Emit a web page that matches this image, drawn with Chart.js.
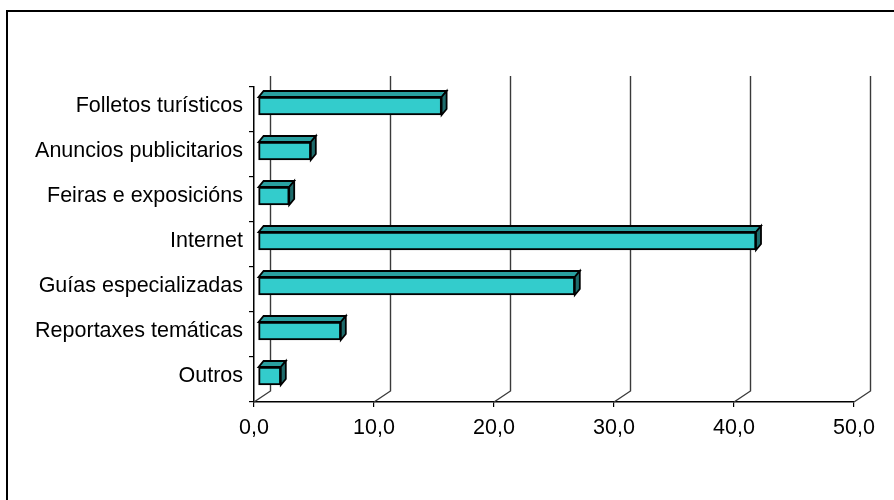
<!DOCTYPE html>
<html>
<head>
<meta charset="utf-8">
<title>Fontes de información</title>
<script src="https://cdn.jsdelivr.net/npm/chart.js@4/dist/chart.umd.min.js"></script>
<style>
  html, body { margin: 0; padding: 0; background: #fff; }
  #wrap { width: 894px; height: 500px; position: relative; }
</style>
</head>
<body>
<div id="wrap"><canvas id="c" width="894" height="500"></canvas></div>
<script>
// Categories and percentages
const categories = [
  'Folletos turísticos',
  'Anuncios publicitarios',
  'Feiras e exposicións',
  'Internet',
  'Guías especializadas',
  'Reportaxes temáticas',
  'Outros'
];
const values = [15.3, 4.4, 2.6, 41.5, 26.4, 6.9, 1.9];
const axisMin = 0;
const axisMax = 50;
const axisStep = 10;

// 3D look: depth of the back wall and of each bar, offset of bars inside the depth
const WALL = { dx: 16.5, dy: -11 };
const BAR_DEPTH = { dx: 5, dy: -6 };
const BAR_SHIFT = { dx: 4, dy: -3.5 };

const FRONT = '#33CCCC';
const TOP = '#29A0A0';
const SIDE = '#1E6B6B';

const fmt = v => v.toFixed(1).replace('.', ',');

const frame3d = {
  id: 'frame3d',
  beforeDraw(chart) {
    const ctx = chart.ctx;
    ctx.save();
    ctx.strokeStyle = '#000';
    ctx.lineWidth = 2;
    ctx.beginPath();
    ctx.moveTo(7, 500);
    ctx.lineTo(7, 11);
    ctx.lineTo(894, 11);
    ctx.stroke();
    ctx.restore();
  },
  beforeDatasetsDraw(chart) {
    const ctx = chart.ctx;
    const xs = chart.scales.x;
    const area = chart.chartArea;
    ctx.save();
    ctx.strokeStyle = '#3a3a3a';
    ctx.lineWidth = 1.4;
    for (let v = axisMin; v <= axisMax; v += axisStep) {
      const xf = xs.getPixelForValue(v);
      const xb = xf + WALL.dx;
      ctx.beginPath();
      ctx.moveTo(xf, area.bottom);
      ctx.lineTo(xb, area.bottom + WALL.dy);
      ctx.lineTo(xb, area.top + WALL.dy);
      ctx.stroke();
    }
    ctx.restore();
    ctx.save();
    ctx.translate(BAR_SHIFT.dx, BAR_SHIFT.dy);
  },
  afterDatasetsDraw(chart) {
    const ctx = chart.ctx;
    const meta = chart.getDatasetMeta(0);
    ctx.lineWidth = 1.8;
    ctx.strokeStyle = '#000';
    ctx.lineJoin = 'miter';
    meta.data.forEach(bar => {
      const { x, y, base, height } = bar.getProps(['x', 'y', 'base', 'height'], true);
      const top = y - height / 2;
      const bot = y + height / 2;
      const dx = BAR_DEPTH.dx, dy = BAR_DEPTH.dy;
      ctx.beginPath();
      ctx.moveTo(base, top);
      ctx.lineTo(base + dx, top + dy);
      ctx.lineTo(x + dx, top + dy);
      ctx.lineTo(x, top);
      ctx.closePath();
      ctx.fillStyle = TOP;
      ctx.fill();
      ctx.stroke();
      ctx.beginPath();
      ctx.moveTo(x, top);
      ctx.lineTo(x + dx, top + dy);
      ctx.lineTo(x + dx, bot + dy);
      ctx.lineTo(x, bot);
      ctx.closePath();
      ctx.fillStyle = SIDE;
      ctx.fill();
      ctx.stroke();
    });
    ctx.restore();
  }
};

new Chart(document.getElementById('c'), {
  type: 'bar',
  data: {
    labels: categories,
    datasets: [{
      data: values,
      backgroundColor: FRONT,
      borderColor: '#000',
      borderWidth: 2,
      borderSkipped: false,
      barThickness: 18
    }]
  },
  options: {
    indexAxis: 'y',
    responsive: false,
    animation: false,
    devicePixelRatio: 1,
    layout: { padding: { left: 0, top: 87, right: 40, bottom: 58 } },
    plugins: { legend: { display: false }, tooltip: { enabled: false } },
    scales: {
      x: {
        min: axisMin,
        max: axisMax,
        afterFit(s) { s.height = 40; },
        ticks: {
          stepSize: axisStep,
          padding: 8,
          color: '#000',
          font: { family: 'Liberation Sans, Arial, sans-serif', size: 21.5 },
          maxRotation: 0,
          callback: v => fmt(v)
        },
        grid: { drawOnChartArea: false, drawTicks: true, tickLength: 5, color: '#000', lineWidth: 1.2 },
        border: { display: true, color: '#000', width: 1.5 }
      },
      y: {
        afterFit(s) { s.width = 254; },
        ticks: {
          padding: 6,
          labelOffset: -3,
          color: '#000',
          font: { family: 'Liberation Sans, Arial, sans-serif', size: 21.5 }
        },
        grid: { offset: true, drawOnChartArea: false, drawTicks: true, tickLength: 5, color: '#000', lineWidth: 1.2 },
        border: { display: true, color: '#000', width: 1.5 }
      }
    }
  },
  plugins: [frame3d]
});
</script>
</body>
</html>
